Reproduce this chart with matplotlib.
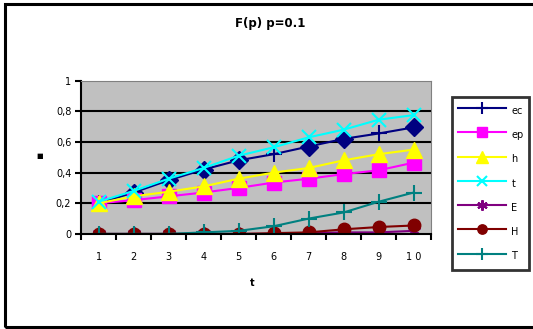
import matplotlib
matplotlib.use("Agg")
import matplotlib.pyplot as plt
from matplotlib.patches import Rectangle
from matplotlib.ticker import FuncFormatter

# values per time step t = 1..10
t_steps = [1, 2, 3, 4, 5, 6, 7, 8, 9, 10]
ec = [0.20, 0.27, 0.35, 0.42, 0.48, 0.52, 0.57, 0.62, 0.655, 0.695]
ep = [0.20, 0.22, 0.245, 0.27, 0.30, 0.335, 0.36, 0.39, 0.415, 0.465]
h = [0.20, 0.245, 0.275, 0.31, 0.36, 0.40, 0.43, 0.48, 0.52, 0.55]
t_vals = [0.21, 0.28, 0.36, 0.43, 0.51, 0.565, 0.63, 0.68, 0.745, 0.775]
E = [0.0, 0.0, 0.0, 0.0, 0.0, 0.0, 0.005, 0.01, 0.01, 0.02]
H = [0.0, 0.0, 0.0, 0.0, 0.0, 0.005, 0.01, 0.03, 0.045, 0.055]
T = [0.0, 0.0, 0.0, 0.01, 0.02, 0.05, 0.10, 0.14, 0.21, 0.27]
# points of ec drawn with a diamond on top of the plus marker
ec_diamond = [1, 2, 3, 4, 6, 7, 9]

fig = plt.figure(figsize=(5.33, 3.29), dpi=100)
ax = fig.add_axes([0.152, 0.289, 0.657, 0.466])
ax.set_facecolor("#C0C0C0")

x = list(range(len(t_steps)))
lw = 1.5
ax.plot(x, ec, color="#000080", lw=lw, marker="+", ms=11, mew=1.5, label="ec")
ax.plot(x, ec, color="#000080", lw=0, marker="D", ms=9.5, markevery=ec_diamond)
ax.plot(x, ep, color="#FF00FF", lw=lw, marker="s", ms=10, label="ep")
ax.plot(x, h, color="#FFFF00", lw=lw, marker="^", ms=11, label="h")
ax.plot(x, t_vals, color="#00FFFF", lw=lw, marker="x", ms=10, mew=1.5, label="t")
ax.plot(x, E, color="#800080", lw=lw, marker=(6, 2, 0), ms=10, mew=1.5, label="E")
ax.plot(x, H, color="#800000", lw=lw, marker="o", ms=9, label="H")
ax.plot(x, T, color="#008080", lw=lw, marker="+", ms=11, mew=1.5, label="T")

ax.set_xlim(-0.5, len(t_steps) - 0.5)
ax.set_ylim(0, 1)
ax.set_yticks([0, 0.2, 0.4, 0.6, 0.8, 1.0])
ax.yaxis.set_major_formatter(FuncFormatter(lambda v, p: ("%g" % round(v, 1)).replace(".", ",")))
for yv in [0.2, 0.4, 0.6, 0.8]:
    ax.axhline(yv, color="black", lw=1.5, zorder=1)

ax.set_xticks(x)
ax.set_xticklabels([" ".join(str(v)) if v >= 10 else str(v) for v in t_steps])
ax.set_xticks([i - 0.5 for i in range(len(t_steps) + 1)], minor=True)
ax.tick_params(axis="x", which="major", length=0, pad=13, labelsize=7)
ax.tick_params(axis="x", which="minor", length=4, width=1.5, direction="out")
ax.tick_params(axis="y", length=4, width=1.5, labelsize=7, pad=3)

ax.spines["left"].set_linewidth(1.5)
ax.spines["bottom"].set_linewidth(1.5)
ax.spines["top"].set_color("#808080")
ax.spines["right"].set_color("#808080")

fig.text(0.507, 0.93, "F(p) p=0.1", ha="center", va="center", fontsize=8.5, fontweight="bold")
fig.text(0.473, 0.14, "t", ha="center", va="center", fontsize=7, fontweight="bold")
fig.text(0.075, 0.527, "■", ha="center", va="center", fontsize=5, fontweight="bold")

leg = fig.legend(loc="upper left", bbox_to_anchor=(0.848, 0.706), fontsize=7,
                 handlelength=5, handleheight=2.2, labelspacing=0.82, borderpad=0.6,
                 handletextpad=0.5, markerscale=0.75,
                 fancybox=False, frameon=True, borderaxespad=0)
leg.get_frame().set_edgecolor("black")
leg.get_frame().set_linewidth(2)

# outer chart frame, its right side runs past the edge of the image
fig.patches.append(Rectangle((0.009, 0.007), 1.05, 0.981, transform=fig.transFigure,
                             fill=False, edgecolor="black", lw=2.2))

fig.savefig("out.png", dpi=100)
